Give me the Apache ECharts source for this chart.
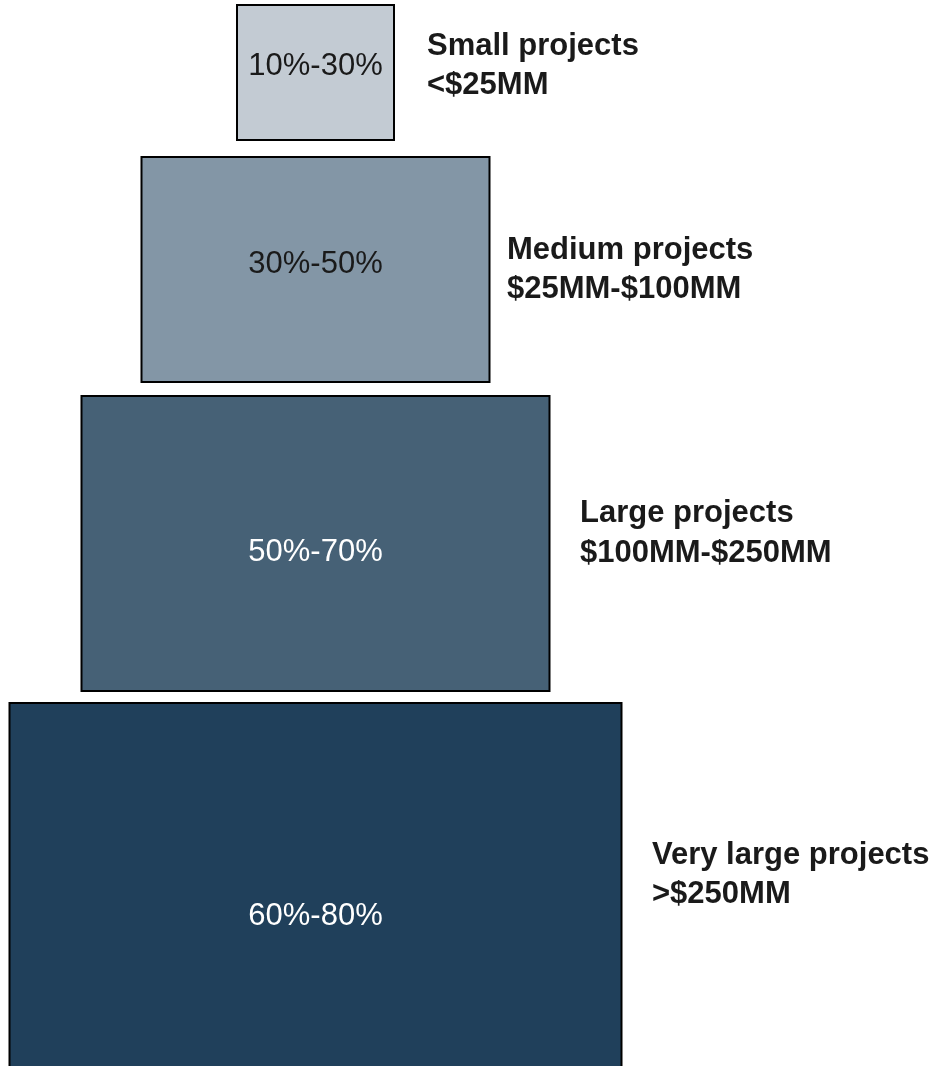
<!DOCTYPE html>
<html>
<head>
<meta charset="utf-8">
<style>
  html, body { margin: 0; padding: 0; background: #ffffff; }
  #chart { width: 940px; height: 1066px; }
</style>
<script src="https://cdn.jsdelivr.net/npm/echarts@6/dist/echarts.min.js"></script>
</head>
<body>
<div id="chart"></div>
<script>
// ---- data ----
const tiers = ['Small projects', 'Medium projects', 'Large projects', 'Very large projects'];
const sizeRanges = ['<$25MM', '$25MM-$100MM', '$100MM-$250MM', '>$250MM'];
const shareRanges = ['10%-30%', '30%-50%', '50%-70%', '60%-80%'];
const blockWidths = [157, 348, 468, 612];
const blockTops = [5, 157, 396, 703];
const blockBottoms = [140, 382, 691, 1130];

// ---- layout / style (kept apart from the data) ----
const CENTER_X = 315.5;
const innerLabelY = [66, 264, 552, 916];
const sideLabelX = [427, 507, 580, 652];
const sideLabelY = [66, 270, 533.5, 875];
const fills = ['#c3cbd3', '#8396a6', '#466176', '#20405b'];
const innerTextColors = ['#1a1a1a', '#1a1a1a', '#ffffff', '#ffffff'];
const FONT = "'Liberation Sans', Arial, Helvetica, sans-serif";

const seriesData = tiers.map((t, i) => [i, blockWidths[i], blockTops[i], blockBottoms[i]]);

const chart = echarts.init(document.getElementById('chart'), null, { renderer: 'canvas' });
chart.setOption({
  animation: false,
  backgroundColor: '#ffffff',
  grid: { left: 0, right: 0, top: 0, bottom: 0 },
  xAxis: { type: 'value', min: 0, max: 940, show: false },
  yAxis: { type: 'value', min: 0, max: 1066, inverse: true, show: false },
  series: [{
    type: 'custom',
    data: seriesData,
    clip: false,
    renderItem: function (params, api) {
      const i = api.value(0);
      const w = api.value(1);
      const top = api.value(2);
      const bottom = api.value(3);
      const p1 = api.coord([CENTER_X - w / 2, top]);
      const p2 = api.coord([CENTER_X + w / 2, bottom]);
      const lab = api.coord([CENTER_X, innerLabelY[i]]);
      const side = api.coord([sideLabelX[i], sideLabelY[i]]);
      return {
        type: 'group',
        children: [
          {
            type: 'rect',
            shape: { x: p1[0], y: p1[1], width: p2[0] - p1[0], height: p2[1] - p1[1] },
            style: { fill: fills[i], stroke: '#000000', lineWidth: 2 }
          },
          {
            type: 'text',
            x: lab[0], y: lab[1],
            style: {
              text: shareRanges[i],
              fill: innerTextColors[i],
              font: '31px ' + FONT,
              align: 'center',
              verticalAlign: 'middle'
            }
          },
          {
            type: 'text',
            x: side[0], y: side[1],
            style: {
              text: tiers[i] + '\n' + sizeRanges[i],
              fill: '#1a1a1a',
              font: 'bold 31px ' + FONT,
              lineHeight: 39.5,
              align: 'left',
              verticalAlign: 'middle'
            }
          }
        ]
      };
    }
  }]
});
</script>
</body>
</html>
